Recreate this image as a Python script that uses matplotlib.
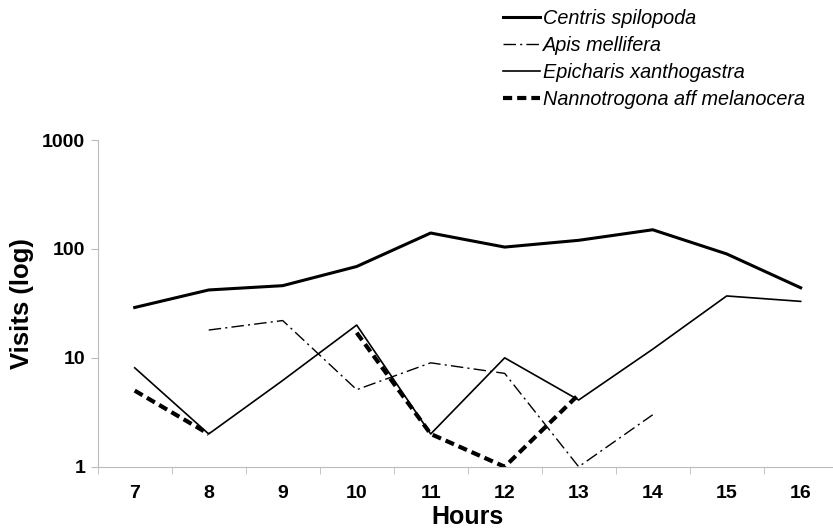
import numpy as np
import matplotlib.pyplot as plt

plt.rcParams['font.family'] = ['Liberation Sans', 'DejaVu Sans']

hours = [7, 8, 9, 10, 11, 12, 13, 14, 15, 16]
centris = [29, 42, 46, 69, 140, 104, 120, 150, 90, 44]
apis = [np.nan, 18, 22, 5.1, 9, 7.2, 1, 3, np.nan, np.nan]
epicharis = [8.1, 2, 6.2, 20, 2, 10, 4.1, 12, 37, 33]
nanno = [5, 2, np.nan, 17, 2, 1, 4.6, np.nan, np.nan, np.nan]

fig = plt.figure(figsize=(8.33, 5.31), dpi=100)
ax = fig.add_axes([0.1173, 0.121, 0.8883, 0.6153])

ax.plot(hours, centris, color='black', lw=2.2, label='Centris spilopoda')
ax.plot(hours, apis, color='black', lw=1.0, dashes=(9, 3, 1.5, 3), label='Apis mellifera')
ax.plot(hours, epicharis, color='black', lw=1.2, label='Epicharis xanthogastra')
ax.plot(hours, nanno, color='black', lw=3.0, dashes=(2.2, 1.2), label='Nannotrogona aff melanocera')

ax.set_yscale('log')
ax.set_ylim(1, 1000)
ax.set_xlim(6.5, 16.5)
ax.set_yticks([1, 10, 100, 1000])
ax.set_yticklabels(['1', '10', '100', '1000'])
ax.yaxis.set_minor_locator(plt.NullLocator())
ax.set_xticks(hours)
ax.set_xticks(np.arange(6.5, 17, 1), minor=True)
ax.tick_params(axis='x', which='major', length=0, pad=13)
ax.tick_params(axis='x', which='minor', length=5, color='#bbbbbb')
ax.tick_params(axis='y', which='major', length=5, color='#bbbbbb', pad=4)
ax.tick_params(labelsize=14)
for lab in ax.get_xticklabels() + ax.get_yticklabels():
    lab.set_fontweight('bold')

for s in ['top', 'right']:
    ax.spines[s].set_visible(False)
for s in ['left', 'bottom']:
    ax.spines[s].set_color('#bbbbbb')

ax.set_xlabel('Hours', fontsize=18, fontweight='bold', labelpad=2)
ax.set_ylabel('Visits (log)', fontsize=18.5, fontweight='bold', labelpad=6)

leg = fig.legend(loc='upper left', bbox_to_anchor=(0.582, 1.016), frameon=False,
                 prop={'style': 'italic', 'size': 14.3}, handlelength=1.9,
                 handletextpad=0.15, labelspacing=0.4)

fig.savefig('out.png', dpi=100)
